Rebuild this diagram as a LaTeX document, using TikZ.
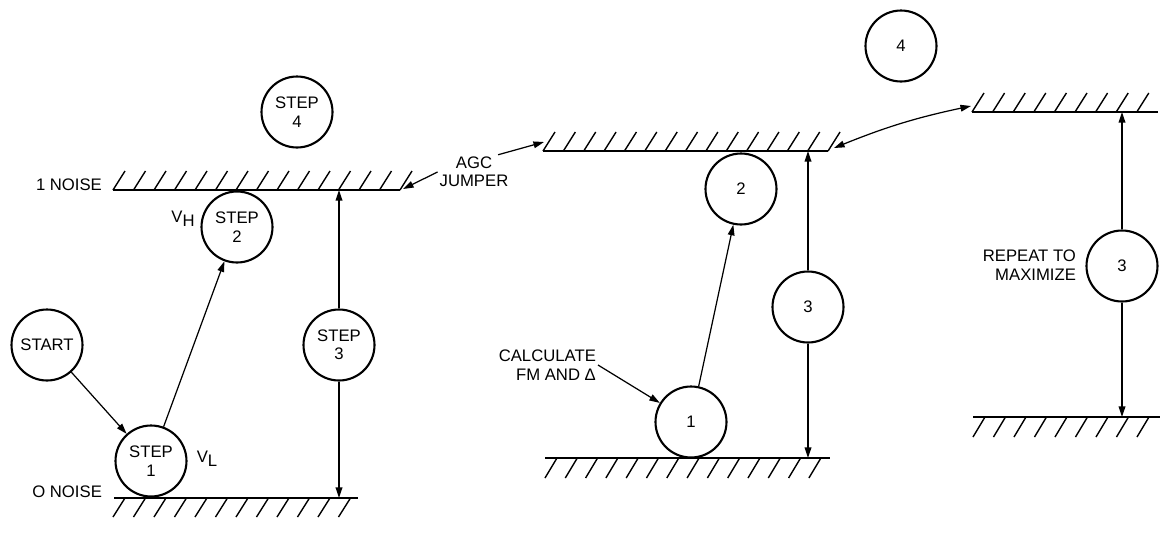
\documentclass[tikz,border=0pt]{standalone}
\usepackage{fontspec}
\setmainfont{Liberation Sans}
\usetikzlibrary{arrows.meta,positioning}

\begin{document}
\begin{tikzpicture}[
  x=0.02cm,y=-0.02cm,
  font=\fontsize{9.5}{10.5}\selectfont,
  stp/.style={draw,circle,line width=1.2pt,minimum size=1.42cm,inner sep=0pt,align=center},
  lbl/.style={inner sep=1pt},
  arr/.style={-{Triangle[length=6pt,width=3.8pt]},line width=0.7pt},
  darr/.style={{Triangle[length=6pt,width=3.8pt]}-{Triangle[length=6pt,width=3.8pt]},line width=0.7pt},
  gnd/.style={line width=0.8pt}
]
  \useasboundingbox (0,0) rectangle (1164,535);

  % Left -- noise levels
  \draw[gnd] (113,190) -- (400,190);
  \foreach \x in {0,...,14} \draw[gnd] (113+\x*20.5,190) -- ++(12,-19);
  \draw[gnd] (114,498) -- (358,498);
  \foreach \x in {0,...,11} \draw[gnd] (125+\x*20.5,498) -- ++(-12,19);
  \node[lbl,anchor=base east] (one)  at (104,190) {1 NOISE};
  \node[lbl,anchor=base east] (zero) at (104,497) {O NOISE};

  \node[stp] (start) at (47,345)  {START};
  \node[stp] (s1)    at (151,461) {STEP\\1};
  \node[stp] (s2)    at (237,227) {STEP\\2};
  \node[stp] (s3)    at (339,345) {STEP\\3};
  \node[stp] (s4)    at (297,112) {STEP\\4};
  \node[lbl] (vl) at (207,459) {V\raisebox{-0.5ex}{L}};
  \node[lbl] (vh) at (183,219) {V\raisebox{-0.5ex}{H}};

  \coordinate (t3) at (339,190);
  \coordinate (b3) at (339,498);
  \draw[arr] (start) -- (s1);
  \draw[arr] (s1) -- (s2);
  \draw[arr] (s3) -- (t3);
  \draw[arr] (s3) -- (b3);

  % AGC jumper
  \node[lbl,align=center] (agc) at (474,172) {AGC\\JUMPER};
  \coordinate (lj) at (403,189);
  \coordinate (mj) at (544,142);
  \draw[arr] (agc.west) -- (lj);
  \draw[arr] ([xshift=-7pt]agc.north east) -- (mj);

  % Middle
  \draw[gnd] (543,151) -- (828,151);
  \foreach \x in {0,...,14} \draw[gnd] (543+\x*20.36,151) -- ++(12,-19);
  \draw[gnd] (545,458) -- (830,458);
  \foreach \x in {0,...,13} \draw[gnd] (557+\x*20.3,458) -- ++(-12,20);

  \node[stp] (m1) at (691,422) {1};
  \node[stp] (m2) at (741,189) {2};
  \node[stp] (m3) at (808,307) {3};
  \node[stp] (m4) at (901,46)  {4};
  \coordinate (mt) at (808,151);
  \coordinate (mb) at (808,458);
  \draw[arr] (m1) -- (m2);
  \draw[arr] (m3) -- (mt);
  \draw[arr] (m3) -- (mb);
  \node[lbl,align=right,anchor=east] (calc) at (598,365) {CALCULATE\\FM AND Δ};
  \draw[arr] (calc.east) -- (m1);

  % Right
  \draw[gnd] (972,112) -- (1158,112);
  \foreach \x in {0,...,8} \draw[gnd] (972+\x*20.6,112) -- ++(12,-19);
  \draw[gnd] (973,417) -- (1160,417);
  \foreach \x in {0,...,8} \draw[gnd] (985+\x*20.5,417) -- ++(-12,20);

  \node[stp] (r3) at (1122,266) {3};
  \coordinate (rt) at (1122,112);
  \coordinate (rb) at (1122,417);
  \draw[arr] (r3) -- (rt);
  \draw[arr] (r3) -- (rb);
  \node[lbl,align=right,anchor=east] (rep) at (1078,265) {REPEAT TO\\MAXIMIZE};

  \coordinate (mj2) at (834,148);
  \coordinate (rj)  at (971,106);
  \draw[darr] (mj2) to[bend left=5] (rj);
\end{tikzpicture}
\end{document}
